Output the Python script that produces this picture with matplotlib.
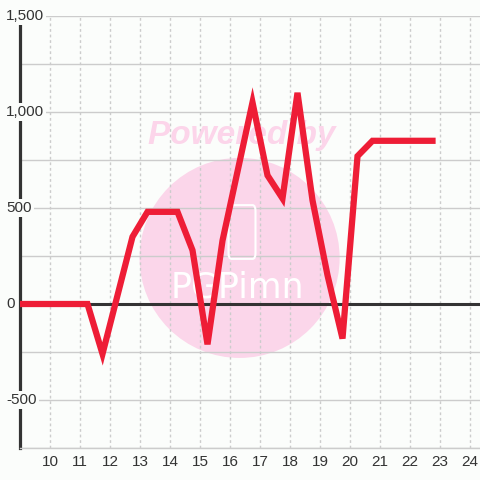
import matplotlib
matplotlib.use('Agg')
import matplotlib.pyplot as plt
from matplotlib.patches import Ellipse, FancyBboxPatch

# data
x_vals = [8.75, 9.25, 9.75, 10.25, 10.75, 11.25, 11.75, 12.25, 12.75, 13.25, 13.75,
          14.25, 14.75, 15.25, 15.75, 16.25, 16.75, 17.25, 17.75, 18.25, 18.75,
          19.25, 19.75, 20.25, 20.75, 21.25, 21.75, 22.25, 22.75]
y_vals = [0, 0, 0, 0, 0, 0, -260, 45, 350, 480, 480,
          480, 280, -210, 330, 690, 1050, 670, 550, 1100, 540,
          150, -180, 770, 850, 850, 850, 850, 850]
x_ticks = list(range(10, 25))
y_label_ticks = [1500, 1000, 500, 0, -500]
y_labels = ['1,500', '1,000', '500', '0', '-500']

bg = '#fbfdfb'
plt.rcParams['font.family'] = ['Liberation Sans', 'DejaVu Sans']

fig = plt.figure(figsize=(4.8, 4.8), dpi=100, facecolor=bg)
ax = fig.add_axes([20 / 480, 32 / 480, 460 / 480, 432 / 480], facecolor=bg)
ax.set_xlim(9.0, 9.0 + 460 / 30)
ax.set_ylim(-750, 1500)

# watermark behind everything
ax.add_patch(Ellipse((16.32, 240), 6.67, 1042, facecolor='#fbd6ea', edgecolor='none', zorder=0.5))
ax.add_patch(FancyBboxPatch((15.95, 235), 0.9, 280, boxstyle='round,pad=0,rounding_size=0.1',
                            mutation_aspect=300, facecolor='none', edgecolor='white', lw=1.5, zorder=0.6))
ax.text(16.25, 85, 'PGPimn', color='white', fontsize=25, family='DejaVu Sans',
        ha='center', va='center', zorder=0.6)
ax.text(16.4, 880, 'Powered by', color='#fcd5ea', fontsize=24, fontweight='bold', style='italic',
        ha='center', va='center', zorder=0.6)

# grid
ax.set_xticks(x_ticks)
ax.set_yticks(range(-750, 1501, 250))
ax.grid(axis='y', color='#cccccc', lw=1, zorder=1)
ax.grid(axis='x', color='#cccccc', lw=1, linestyle=(0, (2, 2)), zorder=1)
ax.set_axisbelow(True)

ax.axhline(0, color='#333333', lw=2.2, zorder=2.4)
ax.plot(x_vals, y_vals, color='#ee1d36', lw=4.5, solid_joinstyle='miter', zorder=3)

for s in ['top', 'right']:
    ax.spines[s].set_visible(False)
ax.spines['bottom'].set_color('#cccccc')
ax.spines['bottom'].set_linewidth(1)
ax.spines['left'].set_color('#333333')
ax.spines['left'].set_linewidth(2.3)

ax.tick_params(axis='x', length=0, pad=5, labelsize=11, labelcolor='#333333')
ax.tick_params(axis='y', length=0, labelleft=False)

# y labels sit on top of the axis line with a background box
for v, lab in zip(y_label_ticks, y_labels):
    ax.text(-14 / 460, v, lab, transform=ax.get_yaxis_transform(), ha='left', va='center',
            fontsize=11, color='#333333', zorder=5, clip_on=False,
            bbox=dict(facecolor=bg, edgecolor='none', pad=1.5))

fig.savefig('out.png', dpi=100, facecolor=bg)
